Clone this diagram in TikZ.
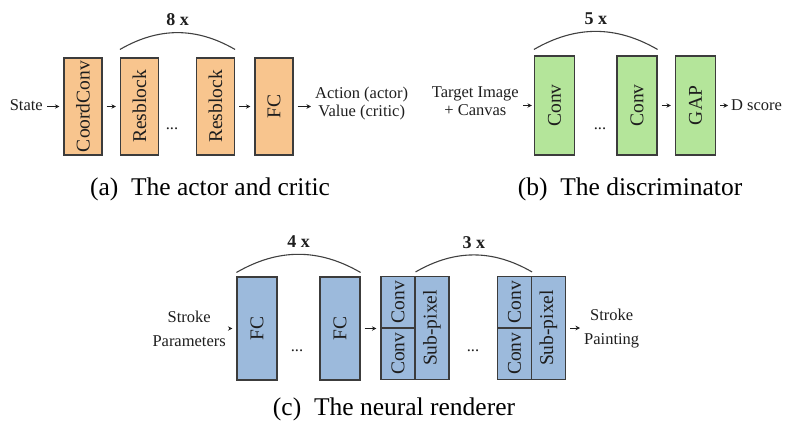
\documentclass[tikz,border=0pt]{standalone}
\usepackage{fontspec}
\setmainfont{Liberation Serif}
\usetikzlibrary{positioning}
\usetikzlibrary{calc}
\usetikzlibrary{arrows.meta}

\definecolor{actorfill}{RGB}{248,197,142}
\definecolor{discfill}{RGB}{180,229,154}
\definecolor{renderfill}{RGB}{156,186,220}
\definecolor{edgegray}{RGB}{60,60,60}
\definecolor{inkgray}{RGB}{30,30,30}

\newcommand{\vlab}[1]{\rotatebox{90}{#1}}

\tikzset{
    layer/.style={draw=edgegray, line width=1.1pt, rectangle, inner sep=0pt, text=inkgray,
        font=\fontsize{19.5}{21}\selectfont, minimum width=38pt, minimum height=97pt},
    actorbox/.style={layer, fill=actorfill},
    discbox/.style={layer, fill=discfill, minimum width=40pt, minimum height=99pt},
    renderbox/.style={layer, fill=renderfill, minimum width=40pt, minimum height=103pt},
    halfcell/.style={renderbox, minimum width=34pt, minimum height=51.5pt},
    txt/.style={inner sep=0pt, text=inkgray, font=\fontsize{16.5}{17}\selectfont, align=center},
    flow/.style={-{Stealth[length=4.5pt,width=4.5pt]}, line width=0.9pt, draw=inkgray,
        shorten <=4pt, shorten >=4pt},
    repeatarc/.style={line width=1.1pt, draw=black!75},
    count/.style={inner sep=0pt, text=inkgray, font=\fontsize{18}{20}\selectfont\bfseries},
    subcap/.style={inner sep=0pt, text=black, font=\fontsize{25.5}{27}\selectfont}
}

\begin{document}
\begin{tikzpicture}[x=1pt, y=1pt]

    \useasboundingbox (0,0) rectangle (806,-442);

    % (a) actor and critic
    \node[txt, anchor=east] (state) at (43,-105) {State};
    \node[actorbox] (coordconv) at (83,-106.5) {\vlab{CoordConv}};
    \node[actorbox] (resfirst) at (139.5,-106.5) {\vlab{Resblock}};
    \node[actorbox] (reslast) at (215.5,-106.5) {\vlab{Resblock}};
    \node[actorbox] (fcactor) at (274,-106.5) {\vlab{FC}};
    \node[txt, anchor=west] (actout) at (315,-104) {Action (actor)\\[1pt]Value (critic)};
    \node[txt, anchor=base] (dotsa) at (172,-129) {...};

    \draw[flow] (state.east |- coordconv) -- (coordconv);
    \draw[flow] (coordconv) -- (resfirst);
    \draw[flow] (reslast) -- (fcactor);
    \draw[flow] (fcactor) -- (actout.west |- fcactor);

    \draw[repeatarc] ($(resfirst.north west)+(0,8)$) to[bend left=30]
        node[count, above=6pt] (nres) {8 x} ($(reslast.north east)+(0,8)$);

    \node[subcap] (capa) at (210,-189) {(a)\hspace{0.5em}The actor and critic};

    % (b) discriminator
    \node[txt, anchor=east] (target) at (519,-101) {Target Image\\[1pt]+ Canvas};
    \node[discbox] (convfirst) at (554.5,-105.5) {\vlab{Conv}};
    \node[discbox] (convlast) at (637,-105.5) {\vlab{Conv}};
    \node[discbox] (gap) at (695.5,-105.5) {\vlab{GAP}};
    \node[txt, anchor=west] (dscore) at (731,-105) {D score};
    \node[txt, anchor=base] (dotsb) at (600,-129) {...};

    \draw[flow, shorten >=2pt] (target.east |- convfirst) -- (convfirst);
    \draw[flow] (convlast) -- (gap);
    \draw[flow, shorten >=3pt] (gap) -- (dscore.west |- gap);

    \draw[repeatarc] ($(convfirst.north west)+(0,6)$) to[bend left=30]
        node[count, above=6pt] (nconv) {5 x} ($(convlast.north east)+(0,6)$);

    \node[subcap] (capb) at (630,-189) {(b)\hspace{0.5em}The discriminator};

    % (c) neural renderer
    \node[txt, anchor=east] (strokein) at (226,-329) {Stroke\\[7pt]Parameters};
    \node[renderbox] (fcfirst) at (257,-328.5) {\vlab{FC}};
    \node[renderbox] (fclast) at (340,-328.5) {\vlab{FC}};

    \node[halfcell] (upatop) at (398,-302.25) {\vlab{Conv}};
    \node[halfcell] (upabot) at (398,-353.75) {\vlab{Conv}};
    \node[renderbox, minimum width=34pt] (upapix) at (432,-328) {\vlab{Sub-pixel}};

    \node[halfcell] (upbtop) at (514.5,-302.25) {\vlab{Conv}};
    \node[halfcell] (upbbot) at (514.5,-353.75) {\vlab{Conv}};
    \node[renderbox, minimum width=34pt] (upbpix) at (548.5,-328) {\vlab{Sub-pixel}};

    \node[txt, anchor=west] (strokeout) at (584,-329) {Stroke\\[7pt]Painting};
    \node[txt, anchor=base] (dotsc) at (297,-351) {...};
    \node[txt, anchor=base] (dotsd) at (473,-351) {...};

    \draw[flow] (strokein.east |- fcfirst) -- (fcfirst);
    \draw[flow] (fclast) -- (upabot.west |- fclast);
    \draw[flow] (upbpix) -- (strokeout.west |- upbpix);

    \draw[repeatarc] ($(fcfirst.north west)+(0,4)$) to[bend left=30]
        node[count, above=6pt] (nfc) {4 x} ($(fclast.north east)+(0,4)$);
    \draw[repeatarc] ($(upatop.north east)+(0,4)$) to[bend left=30]
        node[count, above=6pt] (nup) {3 x} ($(upbtop.north east)+(0,4)$);

    \node[subcap] (capc) at (394,-409) {(c)\hspace{0.5em}The neural renderer};

\end{tikzpicture}
\end{document}
